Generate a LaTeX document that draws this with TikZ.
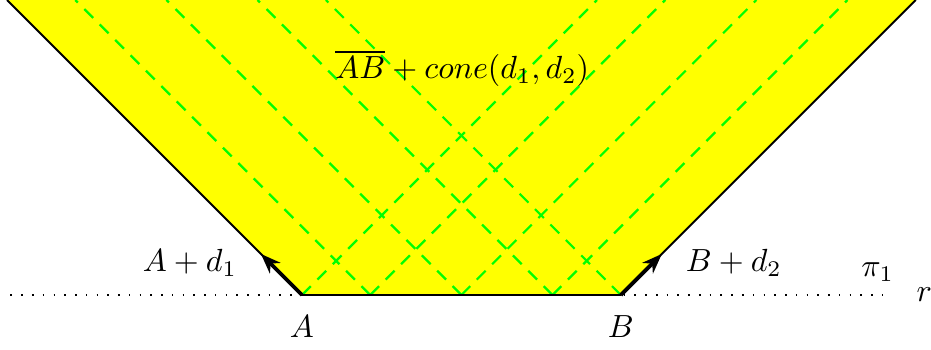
\documentclass[tikz,border=0pt]{standalone}
\usepackage{amsmath, amssymb}
\usepackage{tikz}
\usetikzlibrary{arrows.meta, positioning}
\definecolor{conefill}{RGB}{255,255,0}
\definecolor{raygreen}{RGB}{0,255,0}

\begin{document}
\begin{tikzpicture}[
  ray/.style={dash pattern=on 3.9pt off 2.9pt, line width=0.7pt, raygreen},
  edge/.style={semithick},
  dir/.style={-{Stealth[length=2.2mm]}, line width=1.2pt},
  lineR/.style={dash pattern=on 0.5pt off 2.86pt, line width=0.5pt}]
  \useasboundingbox (-3.315,-0.593) rectangle (6.905,3.238);
  \coordinate (A) at (0,0);
  \coordinate (B) at (3.5,0);
  \coordinate (TL) at (-3.238,3.238);
  \coordinate (TR) at (6.738,3.238);
  \fill[conefill] (A) -- (TL) -- (TR) -- (B) -- cycle;
  % directions d_1 and d_2 from points of AB
  \foreach \x [count=\i] in {0.75,1.75,2.75} {
    \coordinate (P\i) at (\x,0);
    \draw[ray] (P\i) -- ++(3.238,3.238);
    \draw[ray] (P\i) -- ++(-3.238,3.238);
  }
  \draw[ray] (A) -- ++(3.238,3.238);
  \draw[ray] (B) -- ++(-3.238,3.238);
  % line r
  \coordinate (rL) at (-3.2,0);
  \coordinate (rR) at (6.45,0);
  \draw[lineR] (rL) -- (rR);
  \draw[edge] (TL) -- (A);
  \draw[edge] (B) -- (TR);
  \draw[thick] (A) -- (B);
  \coordinate (Ad) at (-0.45,0.45);
  \coordinate (Bd) at (3.95,0.45);
  \draw[dir] (A) -- (Ad);
  \draw[dir] (B) -- (Bd);
  \node[below=1mm of A] (labA) {$A$};
  \node[below=1mm of B] (labB) {$B$};
  \node (labAd) at (-1.23,0.35) {$A+d_1$};
  \node (labBd) at (4.74,0.35) {$B+d_2$};
  \node (pi) at (6.32,0.25) {$\pi_1$};
  \node (r) at (6.83,0) {$r$};
  \node (cone) at (1.76,2.49) {$\overline{AB}+cone(d_1,d_2)$};
\end{tikzpicture}
\end{document}
